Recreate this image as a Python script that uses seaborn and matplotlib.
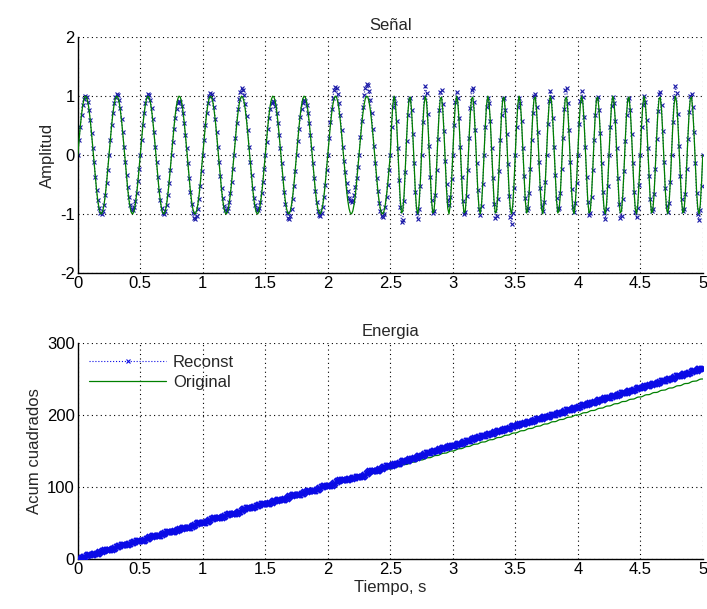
import numpy as np
import pandas as pd
import matplotlib
matplotlib.use("Agg")
import matplotlib.pyplot as plt
import seaborn as sns

# ---- data ----
fs = 100                      # samples per second
duration = 5.0                # seconds
segment_start = [0.0, 2.5]    # s
segment_freq = [4, 8]         # Hz
# reconstructed amplitude per half-cycle (read off the peaks)
reconst_amp_seg1 = [1.00, 1.00, 1.04, 0.93, 1.04, 1.00, 0.92, 1.08, 1.05, 0.95,
                    1.13, 0.94, 0.92, 1.08, 0.93, 1.04, 1.15, 0.80, 1.20, 1.05]
reconst_amp_seg2 = [0.97, 1.15, 0.98, 1.08, 1.17, 1.00, 1.12, 0.85, 1.07, 1.02,
                    1.16, 1.02, 0.97, 1.08, 0.99, 1.17, 0.97, 0.95, 1.05, 0.95,
                    1.08, 0.94, 1.15, 0.97, 1.09, 1.03, 1.00, 1.08, 0.98, 1.08,
                    0.98, 1.06, 1.00, 0.97, 1.09, 0.96, 1.17, 0.97, 1.06, 1.10]
reconst_amps = [reconst_amp_seg1, reconst_amp_seg2]

xticks = [0, 0.5, 1, 1.5, 2, 2.5, 3, 3.5, 4, 4.5, 5]
xticklabels = ["0", "0.5", "1", "1.5", "2", "2.5", "3", "3.5", "4", "4.5", "5"]
yticks_top = [-2, -1, 0, 1, 2]
yticks_bot = [0, 100, 200, 300]

# ---- build the series ----
t = np.arange(0, int(duration * fs) + 1) / fs
orig = np.zeros_like(t)
reconst = np.zeros_like(t)
for i, (ts, f, amps) in enumerate(zip(segment_start, segment_freq, reconst_amps)):
    te = segment_start[i + 1] if i + 1 < len(segment_start) else duration + 1
    m = (t >= ts) & (t < te)
    s = np.sin(2 * np.pi * f * t[m])
    idx = np.clip(np.floor((t[m] - ts) * 2 * f + 1e-9).astype(int), 0, len(amps) - 1)
    orig[m] = s
    reconst[m] = np.asarray(amps)[idx] * s

df = pd.DataFrame({"t": t, "orig": orig, "reconst": reconst,
                   "e_orig": np.cumsum(orig ** 2), "e_reconst": np.cumsum(reconst ** 2)})

# ---- style ----
sns.set_theme(style="white")
plt.rcParams["font.family"] = ["Liberation Sans", "DejaVu Sans"]
plt.rcParams["font.size"] = 12
plt.rcParams["axes.unicode_minus"] = False

blue_top = "#1a1aa8"
blue_bot = "#0a0ae6"
green = "#008000"
FS = 12

fig = plt.figure(figsize=(7.07, 6.09), dpi=100)
ax1 = fig.add_axes([0.110, 0.5517, 0.884, 0.3875])
ax2 = fig.add_axes([0.110, 0.0821, 0.884, 0.3547])

# top
sns.lineplot(data=df, x="t", y="reconst", ax=ax1, color=blue_top, linestyle=":",
             linewidth=0.8, marker="x", markersize=3.5, markeredgewidth=0.8,
             markeredgecolor=blue_top, estimator=None, sort=False, zorder=2)
sns.lineplot(data=df, x="t", y="orig", ax=ax1, color=green, linewidth=0.9,
             estimator=None, sort=False, zorder=3)

# bottom
sns.lineplot(data=df, x="t", y="e_reconst", ax=ax2, color=blue_bot, linestyle=":",
             linewidth=0.8, marker="x", markersize=4.5, markeredgewidth=1.3,
             markeredgecolor=blue_bot, estimator=None, sort=False, zorder=3,
             label="Reconst")
sns.lineplot(data=df, x="t", y="e_orig", ax=ax2, color=green, linewidth=0.9,
             estimator=None, sort=False, zorder=2, label="Original")

for ax in (ax1, ax2):
    ax.set_xlim(0, 5)
    ax.set_xticks(xticks)
    ax.set_xticklabels(xticklabels)
    ax.grid(True, linestyle=(0, (1, 3)), color="black", linewidth=0.8)
    ax.tick_params(direction="in", length=4, width=0.8, colors="black",
                   labelsize=FS, pad=2)
    for side in ("top", "right"):
        ax.spines[side].set_visible(False)
    for side in ("left", "bottom"):
        ax.spines[side].set_color("black")
        ax.spines[side].set_linewidth(1.0)
    ax.set_facecolor("white")

ax1.set_ylim(-2, 2)
ax1.set_yticks(yticks_top)
ax1.set_title("Señal", fontsize=FS, pad=5)
ax1.set_ylabel("Amplitud", fontsize=FS, labelpad=4)
ax1.set_xlabel("")

ax2.set_ylim(0, 300)
ax2.set_yticks(yticks_bot)
ax2.set_title("Energia", fontsize=FS, pad=5)
ax2.set_ylabel("Acum cuadrados", fontsize=FS, labelpad=4)
ax2.set_xlabel("Tiempo, s", fontsize=FS, labelpad=2)

leg = ax2.legend(loc="upper left", frameon=False, fontsize=FS, handlelength=4.6,
                 borderaxespad=0.3, handletextpad=0.4, labelspacing=0.3)
for h in leg.legend_handles:
    h.set_markersize(3.5)
    h.set_markeredgewidth(0.8)

fig.savefig("out.png", dpi=100)
